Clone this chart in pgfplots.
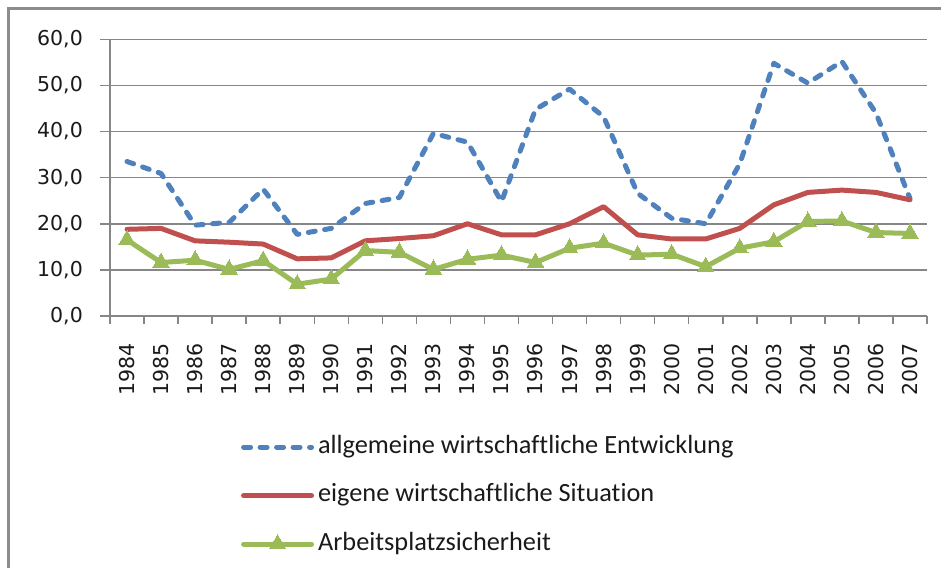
\documentclass[border=0pt]{standalone}
\usepackage{pgfplots}
\pgfplotsset{compat=1.18}
\usepackage{fontspec}
\setmainfont{DejaVu Sans}
\newfontfamily\legfont[Ligatures=NoCommon]{Carlito}
\definecolor{cblue}{HTML}{4F81BD}
\definecolor{cred}{HTML}{C0504D}
\definecolor{cgreen}{HTML}{9BBB59}
\definecolor{cgrid}{HTML}{868686}
\definecolor{cframe}{HTML}{8C8C8C}
\definecolor{ctext}{HTML}{1A1A1A}
\begin{document}
\begin{tikzpicture}
\useasboundingbox (-110pt,-252pt) rectangle (831pt,316pt);
\draw[cframe, line width=3pt] (-101pt,-252pt) -- (-101pt,307pt) -- (831pt,307pt);
\begin{axis}[
  at={(0pt,0pt)}, anchor=south west,
  width=817pt, height=276.7pt, scale only axis,
  xmin=-0.5, xmax=23.5, ymin=0, ymax=60,
  ytick={0,10,...,60},
  xtick={0,1,...,23},
  xticklabels={1984,1985,1986,1987,1988,1989,1990,1991,1992,1993,1994,1995,1996,1997,1998,1999,2000,2001,2002,2003,2004,2005,2006,2007},
  minor xtick={-0.5,0.5,...,23.5},
  axis x line*=bottom, axis y line*=left,
  tick align=outside,
  major tick length=10pt, minor tick length=8pt,
  major x tick style={draw=none},
  ymajorgrids, grid style={cgrid, line width=1.5pt},
  axis line style={cgrid, line width=1.5pt},
  tick style={cgrid, line width=1.5pt},
  yticklabel style={font=\fontsize{20.5}{24}\selectfont, text=ctext, inner sep=0pt, anchor=east},
  yticklabel shift=17pt,
  xticklabel style={font=\fontsize{20.5}{24}\selectfont, text=ctext, rotate=90, anchor=east, inner sep=0pt},
  xticklabel shift=17pt,
  /pgf/number format/fixed, /pgf/number format/fixed zerofill,
  /pgf/number format/precision=1, /pgf/number format/use comma,
  /pgf/number format/assume math mode=true,
  legend cell align=left,
  legend style={at={(0.1565,-0.4228)}, anchor=north west, draw=none, fill=none,
    font=\legfont\fontsize{26.3}{30}\selectfont, text=ctext,
    nodes={inner sep=0pt, text height=18pt, text depth=6pt},
    row sep=24.5pt, column sep=4pt},
  legend image code/.code={\draw[mark repeat=2,mark phase=2,#1] plot coordinates {(0pt,0pt) (34pt,0pt) (68pt,0pt)};},
]
\addplot[cblue, line width=5pt, dash pattern=on 7pt off 9.5pt, line cap=round, line join=round] coordinates {
(0,33.5) (1,30.9) (2,19.7) (3,20.3) (4,27.5) (5,17.7) (6,19.0) (7,24.4) (8,25.7) (9,39.6) (10,37.7) (11,24.8)
(12,44.8) (13,49.2) (14,43.2) (15,26.6) (16,21.2) (17,20.0) (18,33.0) (19,54.8) (20,50.5) (21,55.2) (22,44.0) (23,25.5)};
\addlegendentry{allgemeine wirtschaftliche Entwicklung}
\addplot[cred, line width=5pt, line cap=round, line join=round] coordinates {
(0,18.8) (1,19.0) (2,16.3) (3,16.0) (4,15.6) (5,12.4) (6,12.6) (7,16.3) (8,16.8) (9,17.4) (10,20.0) (11,17.6)
(12,17.6) (13,20.0) (14,23.7) (15,17.6) (16,16.7) (17,16.7) (18,19.0) (19,24.1) (20,26.8) (21,27.3) (22,26.8) (23,25.2)};
\addlegendentry{eigene wirtschaftliche Situation}
\addplot[cgreen, line width=5pt, line cap=round, line join=round, mark=triangle*, mark size=9.5pt, mark options={solid, line width=0pt, fill=cgreen}] coordinates {
(0,16.5) (1,11.6) (2,12.1) (3,10.1) (4,12.0) (5,6.9) (6,8.0) (7,14.2) (8,13.8) (9,10.1) (10,12.3) (11,13.2)
(12,11.6) (13,14.7) (14,15.8) (15,13.2) (16,13.4) (17,10.7) (18,14.7) (19,16.1) (20,20.5) (21,20.6) (22,18.1) (23,17.9)};
\addlegendentry{Arbeitsplatzsicherheit}
\end{axis}
\end{tikzpicture}
\end{document}
